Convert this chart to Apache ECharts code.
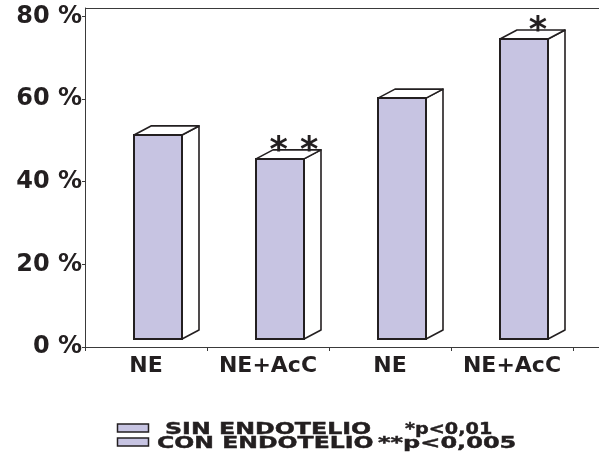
<!DOCTYPE html>
<html>
<head>
<meta charset="utf-8">
<script src="https://cdn.jsdelivr.net/npm/echarts@6/dist/echarts.min.js"></script>
<style>
  html, body { margin: 0; padding: 0; background: #ffffff; }
  #chart { width: 599px; height: 459px; }
</style>
</head>
<body>
<div id="chart"></div>
<script>
// Chart data
const categories = ['NE', 'NE+AcC', 'NE', 'NE+AcC'];
const values = [51.3, 45.5, 60.2, 74.5];          // percent
const significance = ['', '* *', '', '*'];
const yTicks = [0, 20, 40, 60, 80];
const legendNames = ['SIN ENDOTELIO', 'CON ENDOTELIO'];
const legendNotes = ['*p<0,01', '**p<0,005'];

// Styling
const INK = '#231f20';
const AXIS = '#3a3a3a';
const FILL = '#c7c4e2';
const FONT = '"DejaVu Sans", "Liberation Sans", sans-serif';
const FRONT_W = 48;   // width of the front face
const SHIFT = 12;     // front face offset to the right of the band centre
const DX = 17, DY = 9; // depth of the 3D box
const LIFT = 8;       // gap between box and baseline

function renderBox(params, api) {
  const i = api.value(0);
  const v = api.value(1);
  const baseP = api.coord([i, 0]);
  const topP = api.coord([i, v]);
  const cx = baseP[0] + SHIFT;
  const x0 = cx - FRONT_W / 2;
  const x1 = cx + FRONT_W / 2;
  const yb = baseP[1] - LIFT;
  const yt = topP[1];
  const edge = { fill: '#ffffff', stroke: INK, lineWidth: 1.6, lineJoin: 'round' };
  const children = [
    { type: 'polygon', shape: { points: [[x1, yt], [x1 + DX, yt - DY], [x1 + DX, yb - DY], [x1, yb]] }, style: edge },
    { type: 'polygon', shape: { points: [[x0, yt], [x0 + DX, yt - DY], [x1 + DX, yt - DY], [x1, yt]] }, style: edge },
    { type: 'rect', shape: { x: x0, y: yt, width: FRONT_W, height: yb - yt }, style: { fill: FILL, stroke: INK, lineWidth: 2 } }
  ];
  const note = significance[params.dataIndex];
  if (note) {
    children.push({
      type: 'text',
      x: cx + 14,
      y: yt - DY - 7 + 9,
      style: { text: note, font: 'bold 35px ' + FONT, fill: INK, align: 'center', verticalAlign: 'middle' }
    });
  }
  return { type: 'group', children };
}

// Legend drawn as graphic rows
const legendRows = [];
const rowY = [430, 444];
const nameX = [165, 157];
const noteX = [405, 378];
const nameScale = [1.58, 1.57];
const noteScale = [1.28, 1.6];
legendNames.forEach((name, k) => {
  legendRows.push({
    type: 'rect', shape: { x: 117.5, y: rowY[k] - 6, width: 31, height: 8 },
    style: { fill: FILL, stroke: INK, lineWidth: 1.5 }
  });
  legendRows.push({
    type: 'text', x: nameX[k], y: rowY[k], scaleX: nameScale[k],
    style: { text: name, font: 'bold 15px ' + FONT, fill: INK, stroke: INK, lineWidth: 0.4, verticalAlign: 'middle' }
  });
  legendRows.push({
    type: 'text', x: noteX[k], y: rowY[k], scaleX: noteScale[k],
    style: { text: legendNotes[k], font: 'bold 15px ' + FONT, fill: INK, stroke: INK, lineWidth: 0.4, verticalAlign: 'middle' }
  });
});

const chart = echarts.init(document.getElementById('chart'), null, { renderer: 'canvas' });
chart.setOption({
  backgroundColor: '#ffffff',
  animation: false,
  grid: { left: 85, right: 26, top: 8, bottom: 112, containLabel: false, outerBoundsMode: 'none' },
  xAxis: {
    type: 'category',
    data: categories,
    axisLine: { lineStyle: { color: AXIS, width: 1 } },
    axisTick: { show: true, length: 4, alignWithLabel: false, lineStyle: { color: AXIS } },
    axisLabel: { interval: 0, color: INK, fontFamily: FONT, fontWeight: 'bold', fontSize: 22, margin: 8 }
  },
  yAxis: {
    type: 'value',
    min: 0,
    max: 82,
    splitLine: { show: false },
    axisLine: { show: true, lineStyle: { color: AXIS, width: 1 } },
    axisTick: { show: true, length: 3, customValues: yTicks, lineStyle: { color: AXIS } },
    axisLabel: {
      customValues: yTicks,
      formatter: v => v + ' %',
      color: INK, fontFamily: FONT, fontWeight: 'bold', fontSize: 24, margin: 3
    }
  },
  series: [{
    type: 'custom',
    renderItem: renderBox,
    encode: { x: 0, y: 1 },
    data: values.map((v, i) => [i, v]),
    clip: false
  }],
  graphic: [
    // frame line along the top and the baseline running on to the right edge
    { type: 'line', shape: { x1: 85, y1: 8.5, x2: 599, y2: 8.5 }, style: { stroke: AXIS, lineWidth: 1 } },
    { type: 'line', shape: { x1: 573, y1: 347.5, x2: 599, y2: 347.5 }, style: { stroke: AXIS, lineWidth: 1 } },
    ...legendRows
  ]
});
</script>
</body>
</html>
